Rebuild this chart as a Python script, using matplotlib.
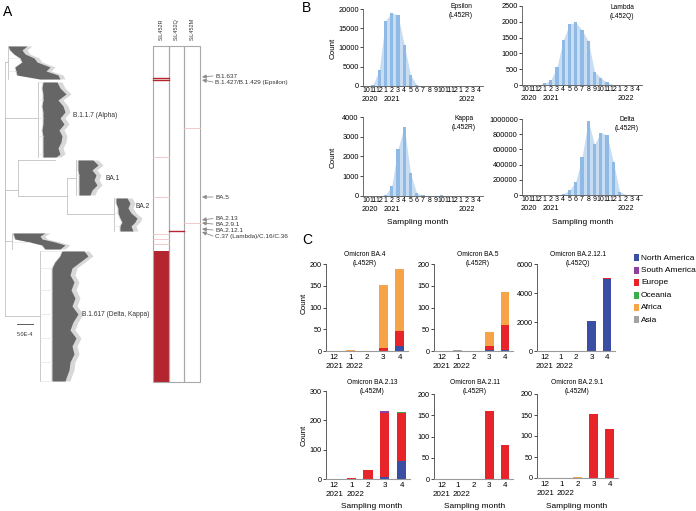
import numpy as np
import matplotlib.pyplot as plt
from matplotlib.patches import Rectangle

plt.rcParams['font.family'] = ['Liberation Sans', 'DejaVu Sans']

W, H = 696, 511


def box(l, t, r, b):
    # pixel box -> figure fraction rect
    return [l / W, 1 - b / H, (r - l) / W, (b - t) / H]


# ---------------- Panel A data ----------------
# tree nodes: (name, parent, depth, row)
tree_nodes = [
    ('root', None, 5, 200),
    ('top', 'root', 8, 62),
    ('alpha', 'root', 38, 118),
    ('omicron', 'root', 18, 190),
    ('omi_side', 'omicron', 55, 160),
    ('omi_core', 'omicron', 67, 196),
    ('ba1', 'omi_core', 76, 178),
    ('ba2_node', 'omi_core', 98, 214),
    ('ba2', 'ba2_node', 114, 214),
    ('low', 'root', 12, 241),
    ('delta', 'root', 40, 316),
]
clade_names = ['top', 'alpha', 'ba1', 'ba2', 'low', 'delta']
clade_rows = [
    [46, 50, 54, 58, 62, 67, 71, 75, 79],
    [82, 88, 94, 100, 106, 112, 118, 124, 130, 136, 142, 148, 154, 157],
    [160, 165, 170, 175, 180, 185, 190, 195],
    [198, 203, 208, 213, 218, 222, 226, 231],
    [233, 236, 239, 242, 245, 249],
    [251, 256, 262, 268, 275, 282, 290, 298, 306, 314, 322, 330, 338, 346, 354, 362, 370, 378, 381],
]
clade_left = [
    [8, 10, 14, 20, 22, 15, 16, 17, 40],
    [43, 42, 43, 43, 42, 43, 43, 43, 42, 43, 43, 43, 43, 43],
    [78, 78, 78, 79, 79, 79, 79, 79],
    [116, 116, 118, 118, 120, 122, 120, 120],
    [13, 14, 15, 30, 42, 45],
    [62, 60, 55, 52, 52, 52, 52, 52, 52, 52, 52, 52, 52, 52, 52, 52, 52, 52, 52],
]
clade_right = [
    [27, 22, 25, 34, 37, 50, 46, 58, 60],
    [57, 60, 66, 58, 63, 65, 60, 64, 59, 62, 61, 58, 60, 56],
    [93, 98, 92, 96, 94, 97, 92, 90],
    [127, 130, 128, 131, 137, 135, 131, 133],
    [45, 40, 42, 55, 65, 60],
    [84, 88, 80, 72, 70, 74, 71, 75, 72, 78, 73, 70, 76, 72, 74, 70, 69, 66, 65],
]
tree_labels = ['B.1.1.7 (Alpha)', 'BA.1', 'BA.2', 'B.1.617 (Delta, Kappa)']
tree_label_pos = [(73, 115), (106, 178), (135, 206), (82, 314)]

hm_columns = ['S:L452R', 'S:L452Q', 'S:L452M']
hm_strong = [[78, 80], [231], []]
hm_faint = [[157, 197, 234, 239, 244], [], [128, 223]]
hm_block = [(251, 382), None, None]

lineage_names = ['B.1.637', 'B.1.427/B.1.429 (Epsilon)', 'BA.5', 'BA.2.13',
                 'BA.2.9.1', 'BA.2.12.1', 'C.37 (Lambda)/C.16/C.36']
lineage_rows = [77, 80, 197, 220, 223, 229, 232]
lineage_label_rows = [76, 82, 197, 218.5, 224, 230, 236]

# ---------------- Panel B data ----------------
months_b = ['10', '11', '12', '1', '2', '3', '4', '5', '6', '7', '8', '9',
            '10', '11', '12', '1', '2', '3', '4']
years_b = ['2020', '2021', '2022']
epsilon = [0, 300, 4200, 17000, 19000, 18400, 10700, 2900, 200, 0,
           0, 0, 0, 0, 0, 0, 0, 0, 0]
lambda_ = [0, 0, 10, 50, 150, 580, 1420, 1930, 1980, 1740,
           1390, 420, 230, 85, 10, 0, 0, 0, 0]
kappa = [0, 0, 10, 50, 500, 2390, 3500, 1140, 135, 30,
         10, 20, 30, 10, 0, 0, 0, 0, 0]
delta = [0, 0, 0, 0, 0, 1000, 13000, 65000, 175000, 495000,
         975000, 665000, 820000, 790000, 440000, 45000, 5000, 1000, 0]

# ---------------- Panel C data ----------------
months_c = ['12', '1', '2', '3', '4']
years_c = ['2021', '2022']
regions = ['North America', 'South America', 'Europe', 'Oceania', 'Africa', 'Asia']
region_colors = ['#3a4ea3', '#8e3fa0', '#e8242b', '#3aae4a', '#f7a449', '#a3a3a3']
stack_order = ['North America', 'Europe', 'South America', 'Oceania', 'Africa', 'Asia']

ba4 = {'North America': [0, 0, 0, 1, 11], 'Europe': [0, 0, 0, 7, 35],
       'Africa': [0, 2, 1, 144, 143]}
ba5 = {'North America': [0, 0, 0, 2, 2], 'Europe': [0, 1, 0, 10, 58],
       'Africa': [0, 0, 1, 31, 76], 'Asia': [0, 1, 0, 0, 0]}
ba2121 = {'North America': [0, 0, 0, 2060, 4960], 'Europe': [0, 0, 0, 10, 90]}
ba213 = {'North America': [0, 0, 0, 7, 60], 'Europe': [0, 2, 30, 219, 166],
         'South America': [0, 0, 0, 6, 0], 'Oceania': [0, 0, 0, 1, 2],
         'Africa': [0, 0, 0, 0, 1]}
ba211 = {'North America': [0, 0, 0, 1, 0], 'Europe': [0, 0, 0, 158, 79],
         'Africa': [0, 0, 0, 2, 1.5], 'Asia': [0, 1, 0, 0, 0]}
ba291 = {'Europe': [0, 0, 0.8, 152, 116], 'Africa': [0, 0, 0.5, 0, 0]}

fig = plt.figure(figsize=(6.96, 5.11), dpi=100)

# ======================= Panel A =======================
axA = fig.add_axes(box(0, 0, 300, 400))
axA.set_xlim(0, 300)
axA.set_ylim(400, 0)
axA.axis('off')

stem_col = '#c2c2c2'
nodes = {n[0]: n for n in tree_nodes}
for name, parent, depth, row in tree_nodes:
    if parent is None:
        continue
    p = nodes[parent]
    axA.plot([p[2], p[2]], [p[3], row], color=stem_col, lw=0.6)
    axA.plot([p[2], depth], [row, row], color=stem_col, lw=0.6)

for name, rows, left, right in zip(clade_names, clade_rows, clade_left, clade_right):
    d = nodes[name][2]
    axA.plot([d, d], [rows[0], rows[-1]], color=stem_col, lw=0.6)
    for r, l in list(zip(rows, left))[::3]:
        axA.plot([d, l], [r, r], color='#e0e0e0', lw=0.4)
    rows = np.array(rows)
    axA.fill_betweenx(rows, np.array(left) - 1, np.array(right) + 5, color='#d8d8d8', lw=0)
    axA.fill_betweenx(rows, left, right, color='#666666', lw=0)

for txt, (x, y) in zip(tree_labels, tree_label_pos):
    axA.text(x, y, txt, fontsize=4.8, color='#333333', ha='left', va='center')

# scale bar
axA.plot([17, 33], [324, 324], color='#444444', lw=0.6)
axA.text(25, 334, '5.0E-4', fontsize=4, ha='center', va='center', color='#333333')

# heatmap of mutations
col_edges = [153, 169, 184, 200]
hm_top, hm_bot = 46, 382
for i, name in enumerate(hm_columns):
    x0, x1 = col_edges[i], col_edges[i + 1]
    if hm_block[i] is not None:
        b0, b1 = hm_block[i]
        axA.add_patch(Rectangle((x0, b0), x1 - x0, b1 - b0, color='#b3252f', lw=0))
    for r in hm_faint[i]:
        axA.plot([x0, x1], [r, r], color='#f0c2c2', lw=0.6)
    for r in hm_strong[i]:
        axA.plot([x0, x1], [r, r], color='#b3252f', lw=1.0)
    axA.add_patch(Rectangle((x0, hm_top), x1 - x0, hm_bot - hm_top, fill=False,
                            ec='#a8a8a8', lw=0.8))
    axA.text((x0 + x1) / 2, 40, name, rotation=90, fontsize=4, ha='center', va='bottom',
             color='#333333')

for name, r, lr in zip(lineage_names, lineage_rows, lineage_label_rows):
    axA.annotate('', xy=(202, r), xytext=(213, lr),
                 arrowprops=dict(arrowstyle='-|>', color='#8c8c8c', lw=0.6,
                                 mutation_scale=6, shrinkA=0, shrinkB=0))
    axA.text(215, lr, name, fontsize=4.6, ha='left', va='center', color='#333333')

# ======================= Panel B =======================
def month_hist(rect, counts, ymax, yticks, title, title_xy):
    ax = fig.add_axes(box(*rect))
    x = np.arange(len(counts))
    ax.fill_between(x, counts, color='#c8dcf2', lw=0)
    ax.bar(x, counts, width=0.5, color='#8fbae6', lw=0)
    ax.set_xlim(-0.6, len(counts) - 0.4)
    ax.set_ylim(0, ymax)
    ax.set_yticks(yticks)
    ax.set_yticklabels([str(v) for v in yticks])
    ax.set_xticks(x)
    ax.set_xticklabels(months_b)
    ax.tick_params(axis='x', length=0, pad=1, labelsize=5)
    ax.tick_params(axis='y', length=2, width=0.5, pad=1, labelsize=5.3)
    for s in ['top', 'right']:
        ax.spines[s].set_visible(False)
    for s in ['left', 'bottom']:
        ax.spines[s].set_linewidth(0.6)
        ax.spines[s].set_color('#555555')
    for yr, pos in zip(years_b, [0.5, 4, 16]):
        ax.annotate(yr, xy=(pos, 0), xycoords=('data', 'axes fraction'),
                    xytext=(0, -7.5), textcoords='offset points',
                    ha='center', va='top', fontsize=5.3)
    fig.text(title_xy[0] / W, 1 - title_xy[1] / H, title, fontsize=4.8,
             ha='center', va='center', linespacing=1.3)
    return ax


month_hist((363, 9, 483, 86), epsilon, 20000, [0, 5000, 10000, 15000, 20000],
           'Epsilon\n(L452R)', (461, 11))
month_hist((522, 6, 642, 85), lambda_, 2500, [0, 500, 1000, 1500, 2000, 2500],
           'Lambda\n(L452Q)', (622, 12))
month_hist((363, 117, 483, 196), kappa, 4000, [0, 1000, 2000, 3000, 4000],
           'Kappa\n(L452R)', (464, 123))
month_hist((522, 119, 642, 195), delta, 1000000,
           [0, 200000, 400000, 600000, 800000, 1000000],
           'Delta\n(L452R)', (627, 124))

fig.text(333 / W, 1 - 48 / H, 'Count', rotation=90, fontsize=5.8, ha='center', va='center')
fig.text(333 / W, 1 - 157 / H, 'Count', rotation=90, fontsize=5.8, ha='center', va='center')
fig.text(418 / W, 1 - 222 / H, 'Sampling month', fontsize=6, ha='center', va='center')
fig.text(583 / W, 1 - 222 / H, 'Sampling month', fontsize=6, ha='center', va='center')

# ======================= Panel C =======================
def stacked(rect, data, ymax, ystep, title, title_xy):
    ax = fig.add_axes(box(*rect))
    x = np.arange(len(months_c))
    bottom = np.zeros(len(months_c))
    for reg in stack_order:
        vals = np.array(data.get(reg, [0] * len(months_c)), dtype=float)
        ax.bar(x, vals, 0.55, bottom=bottom, color=region_colors[regions.index(reg)], lw=0)
        bottom += vals
    ax.set_xlim(-0.5, len(months_c) - 0.5)
    ax.set_ylim(0, ymax)
    yt = np.arange(0, ymax + 1, ystep)
    ax.set_yticks(yt)
    ax.set_yticklabels([str(int(v)) for v in yt])
    ax.set_xticks(x)
    ax.set_xticklabels(months_c)
    ax.tick_params(axis='x', length=0, pad=2, labelsize=5.8)
    ax.tick_params(axis='y', length=2, width=0.5, pad=1, labelsize=5.2)
    for s in ['top', 'right']:
        ax.spines[s].set_visible(False)
    ax.spines['left'].set_linewidth(0.6)
    ax.spines['left'].set_color('#444444')
    ax.spines['bottom'].set_linewidth(0.8)
    ax.spines['bottom'].set_color('#9a9a9a')
    for yr, pos in zip(years_c, [0, 1.25]):
        ax.annotate(yr, xy=(pos, 0), xycoords=('data', 'axes fraction'),
                    xytext=(0, -8.5), textcoords='offset points',
                    ha='center', va='top', fontsize=5.8)
    fig.text(title_xy[0] / W, 1 - title_xy[1] / H, title, fontsize=4.8,
             ha='center', va='center', linespacing=1.3)
    return ax


stacked((326, 264, 408, 351), ba4, 200, 50, 'Omicron BA.4\n(L452R)', (365, 259))
stacked((434, 264, 513, 351), ba5, 200, 50, 'Omicron BA.5\n(L452R)', (478, 259))
stacked((537, 264, 615, 351), ba2121, 6000, 2000, 'Omicron BA.2.12.1\n(L452Q)', (578, 259))
stacked((326, 391, 410, 479), ba213, 300, 100, 'Omicron BA.2.13\n(L452M)', (372, 387))
stacked((434, 394, 513, 479), ba211, 200, 50, 'Omicron BA.2.11\n(L452R)', (475, 387))
stacked((537, 394, 618, 478), ba291, 200, 50, 'Omicron BA.2.9.1\n(L452M)', (577, 387))

fig.text(304 / W, 1 - 303 / H, 'Count', rotation=90, fontsize=5.8, ha='center', va='center')
fig.text(304 / W, 1 - 435 / H, 'Count', rotation=90, fontsize=5.8, ha='center', va='center')
for xc in [372, 475, 577]:
    fig.text(xc / W, 1 - 506 / H, 'Sampling month', fontsize=6, ha='center', va='center')

# legend
axL = fig.add_axes(box(628, 250, 696, 328))
axL.set_xlim(628, 696)
axL.set_ylim(328, 250)
axL.axis('off')
for i, (reg, col) in enumerate(zip(regions, region_colors)):
    yc = 258 + i * 12.4
    axL.add_patch(Rectangle((634, yc - 3.5), 4.5, 7, color=col, lw=0))
    axL.text(641, yc, reg, fontsize=6, ha='left', va='center')

# panel letters
fig.text(3 / W, 1 - 12 / H, 'A', fontsize=10, ha='left', va='center')
fig.text(302 / W, 1 - 8 / H, 'B', fontsize=10, ha='left', va='center')
fig.text(302 / W, 1 - 240 / H, 'C', fontsize=10, ha='left', va='center')

fig.savefig('out.png', dpi=100)
